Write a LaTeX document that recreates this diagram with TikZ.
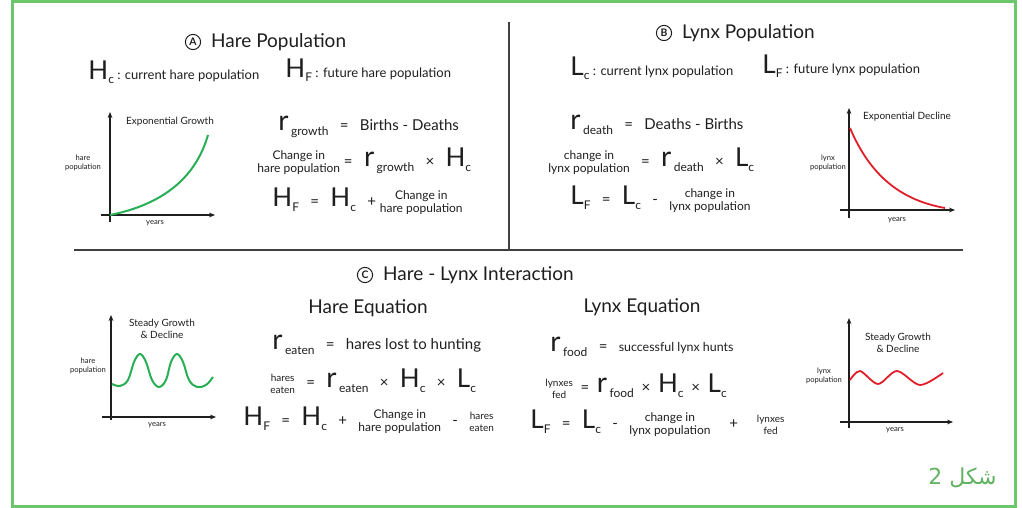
\documentclass[tikz,border=0pt]{standalone}
\usepackage{fontspec}
\setmainfont{Lato}
\newfontfamily\arabicfont[Script=Arabic]{DejaVu Sans}
\TeXXeTstate=1
\usetikzlibrary{
    arrows.meta,
    positioning
}
\definecolor{FrameGreen}{RGB}{108,198,108}
\definecolor{HareGreen}{RGB}{40,175,85}
\definecolor{LynxRed}{RGB}{225,30,40}
\definecolor{InkBlack}{RGB}{30,30,30}
\tikzset{
  heading/.style = {font=\fontsize{9.5}{11}\selectfont, text=InkBlack},
  badge/.style   = {draw=InkBlack, circle, line width=0.5pt, inner sep=0pt,
                    minimum size=7.6pt, font=\fontsize{5.2}{5.5}\selectfont\bfseries, text=InkBlack},
  defn/.style    = {anchor=west, inner sep=0pt, font=\fontsize{6.5}{8}\selectfont, text=InkBlack},
  eqn/.style     = {anchor=west, inner sep=0pt, font=\fontsize{7.5}{9}\selectfont, text=InkBlack},
  gcap/.style    = {align=center, inner sep=0pt, font=\fontsize{5}{6}\selectfont, text=InkBlack},
  axlab/.style   = {align=center, inner sep=0pt, font=\fontsize{3.8}{4.6}\selectfont, text=InkBlack},
  divider/.style = {line width=1pt, InkBlack!85},
  axis/.style    = {-{Stealth[length=3pt, width=2.4pt]}, line width=0.6pt, InkBlack},
  hcurve/.style  = {line width=1pt, HareGreen},
  lcurve/.style  = {line width=0.9pt, LynxRed}
}
% big letters with a low index
\newcommand{\subtxt}[1]{\raisebox{-0.6ex}{\fontsize{6}{6}\selectfont #1}}
\newcommand{\pH}[1]{{\fontsize{13}{13}\selectfont H}\subtxt{#1}}
\newcommand{\pL}[1]{{\fontsize{13}{13}\selectfont L}\subtxt{#1}}
\newcommand{\pr}[1]{{\fontsize{14}{14}\selectfont r}\,\subtxt{#1}}
\newcommand{\stk}[3][6]{{\fontsize{#1}{6}\selectfont\begin{tabular}{@{}c@{}}#2\\#3\end{tabular}}}

\begin{document}
\begin{tikzpicture}[x=0.5pt, y=-0.5pt]
\useasboundingbox (0,0) rectangle (1022,508);
\draw[FrameGreen, line width=1.5pt] (12.5,1.5) rectangle (1015.5,506.5);

% dividers
\coordinate (vtop) at (509,22);
\coordinate (vbot) at (509,250);
\coordinate (hleft) at (74,250);
\coordinate (hright) at (963,250);
\draw[divider] (vtop) -- (vbot);
\draw[divider] (hleft) -- (hright);

% A: hare population
\node[badge] (bA) at (193,42) {A};
\node[heading, right=1.5pt of bA] (tA) {Hare Population};
\node[defn] (dA1) at (88,72) {\pH{c} : current hare population};
\node[defn] (dA2) at (285,70) {\pH{F} : future hare population};
\node[eqn] (eA1) at (278,127) {\pr{growth} \enspace= \enspace Births - Deaths};
\node[eqn] (eA2) at (257,162) {\stk{Change in}{hare population} = \enspace\pr{growth} \enspace× \enspace\pH{c}};
\node[eqn] (eA3) at (272,202) {\pH{F} \enspace= \enspace\pH{c} \enspace+ \stk{Change in}{hare population}};

\coordinate (oA) at (110,215);
\draw[axis] (110,222) -- (110,112);
\draw[axis] (101,215) -- (215,215);
\draw[hcurve] (oA) .. controls (160,205) and (195,180) .. (208,135);
\node[gcap] (cA) at (170,122) {Exponential Growth};
\node[axlab] (yA) at (83,163) {hare\\population};
\node[axlab] (xA) at (155,223) {years};

% B: lynx population
\node[badge] (bB) at (664,33) {B};
\node[heading, right=1.5pt of bB] (tB) {Lynx Population};
\node[defn] (dB1) at (570,68) {\pL{c} : current lynx population};
\node[defn] (dB2) at (762,66) {\pL{F} : future lynx population};
\node[eqn] (eB1) at (570,125) {\pr{death} \enspace= \enspace Deaths - Births};
\node[eqn] (eB2) at (548,162) {\stk{change in}{lynx population} \enspace= \enspace\pr{death} \enspace× \enspace\pL{c}};
\node[eqn] (eB3) at (570,200) {\pL{F} \enspace= \enspace\pL{c} \enspace- \enspace\stk{change in}{lynx population}};

\coordinate (oB) at (849,210);
\draw[axis] (849,218) -- (849,108);
\draw[axis] (840,210) -- (955,210);
\draw[lcurve] (850,128) .. controls (870,175) and (900,200) .. (945,208);
\node[gcap] (cB) at (907,117) {Exponential Decline};
\node[axlab] (yB) at (828,163) {lynx\\population};
\node[axlab] (xB) at (897,220) {years};

% C: interaction
\node[badge] (bC) at (365,275) {C};
\node[heading, right=1.5pt of bC] (tC) {Hare - Lynx Interaction};
\node[heading] (tH) at (368,308) {Hare Equation};
\node[heading] (tL) at (642,307) {Lynx Equation};

\node[eqn] (eC1) at (272,345) {\pr{eaten} \enspace= \enspace hares lost to hunting};
\node[eqn] (eC2) at (270,383) {\stk[5]{hares}{eaten} \enspace= \enspace\pr{eaten} \enspace× \enspace\pH{c} \enspace× \enspace\pL{c}};
\node[eqn] (eC3) at (243,421) {\pH{F} \enspace= \enspace\pH{c} \enspace+ \enspace\stk{Change in}{hare population} \enspace- \enspace\stk[5]{hares}{eaten}};

\node[eqn] (eD1) at (550,347) {\pr{food} \enspace= \enspace{\fontsize{6.2}{7}\selectfont successful lynx hunts}};
\node[eqn] (eD2) at (545,388) {\stk[5]{lynxes}{fed} \ = \ \pr{food} \ × \ \pH{c} \ × \ \pL{c}};
\node[eqn] (eD3) at (530,424) {\pL{F} \enspace= \enspace\pL{c} \enspace- \enspace\stk{change in}{lynx population} \quad+ \quad\stk[5]{lynxes}{fed}};

\coordinate (oC) at (111,417);
\draw[axis] (111,420) -- (111,315);
\draw[axis] (102,417) -- (216,417);
\draw[hcurve] plot[smooth, tension=0.6] coordinates {(112,384) (120,386) (128,380) (134,362) (140,354)
  (146,362) (152,380) (159,387) (166,380) (171,362) (177,354) (183,362) (189,380) (197,387) (206,385) (213,377)};
\node[gcap] (cC) at (162,329) {Steady Growth\\\& Decline};
\node[axlab] (yC) at (88,366) {hare\\population};
\node[axlab] (xC) at (157,425) {years};

\coordinate (oD) at (849,422);
\draw[axis] (849,428) -- (849,318);
\draw[axis] (840,422) -- (953,422);
\draw[lcurve] plot[smooth] coordinates {(850,380) (860,371) (878,384) (897,371) (920,385) (943,373)};
\node[gcap] (cD) at (898,343) {Steady Growth\\\& Decline};
\node[axlab] (yD) at (824,376) {lynx\\population};
\node[axlab] (xD) at (895,430) {years};

% figure label
\node[anchor=east, inner sep=0pt, text=FrameGreen!90!black, font=\arabicfont\fontsize{11}{13}\selectfont] (fig) at (997,478) {\beginR شكل 2\endR};
\end{tikzpicture}
\end{document}
